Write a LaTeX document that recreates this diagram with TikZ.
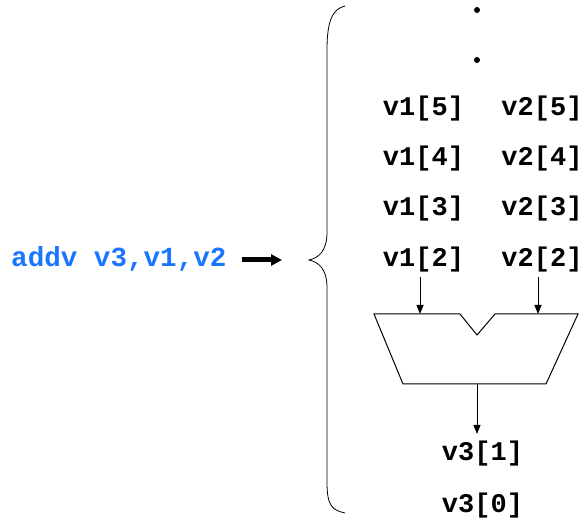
\documentclass[tikz,border=0pt]{standalone}
\usepackage{fontspec}
\setmonofont{Liberation Mono}
\usetikzlibrary{arrows.meta}
\definecolor{instblue}{RGB}{26,117,255}
\tikzset{
  reg/.style={font=\ttfamily\bfseries\fontsize{27}{27}\selectfont, inner sep=0pt, anchor=base},
  flow/.style={-{Triangle[length=9pt,width=7pt]}, line width=1pt},
}
\begin{document}
\begin{tikzpicture}[x=1pt,y=-1pt]
\useasboundingbox (0,0) rectangle (584,518);
% instruction and issue arrow
\node[reg, text=instblue, anchor=base west, font=\ttfamily\bfseries\fontsize{27.6}{27.6}\selectfont] (inst) at (11,267) {addv v3,v1,v2};
\coordinate (ia) at (242,260);
\coordinate (ib) at (282,260);
\draw[-{Triangle[length=11pt,width=11pt]}, line width=5pt] (ia) -- (ib);
% left brace
\draw[line width=0.8pt] (345,6) .. controls (332,9) and (327,22) .. (327,50)
  -- (327,232) .. controls (327,252) and (318,258) .. (309,260)
  .. controls (318,262) and (327,268) .. (327,288)
  -- (327,482) .. controls (327,506) and (332,510) .. (345,513);
% pending elements
\fill (477,10) circle (3);
\fill (477,60) circle (3);
\node[reg] (a5) at (423.5,116) {v1[5]};
\node[reg] (b5) at (542,116) {v2[5]};
\node[reg] (a4) at (423.5,166) {v1[4]};
\node[reg] (b4) at (542,166) {v2[4]};
\node[reg] (a3) at (423.5,216) {v1[3]};
\node[reg] (b3) at (542,216) {v2[3]};
\node[reg] (a2) at (423.5,267) {v1[2]};
\node[reg] (b2) at (542,267) {v2[2]};
% adder
\coordinate (tl) at (374,314);
\coordinate (n1) at (460,314);
\coordinate (nb) at (477,335);
\coordinate (n2) at (495,314);
\coordinate (tr) at (578,314);
\coordinate (br) at (546,384);
\coordinate (bl) at (403,384);
\draw[line width=1pt] (tl) -- (n1) -- (nb) -- (n2) -- (tr) -- (br) -- (bl) -- cycle;
\coordinate (inA) at (420,314);
\coordinate (inB) at (538,314);
\coordinate (outT) at (477,384);
\draw[flow] (inA |- a2.south) ++(0,4) -- (inA);
\draw[flow] (inB |- b2.south) ++(0,4) -- (inB);
% results
\node[reg] (c1) at (482.5,461) {v3[1]};
\node[reg] (c0) at (482.5,512) {v3[0]};
\coordinate (outB) at (477,434);
\draw[flow] (outT) -- (outB);
\end{tikzpicture}
\end{document}
